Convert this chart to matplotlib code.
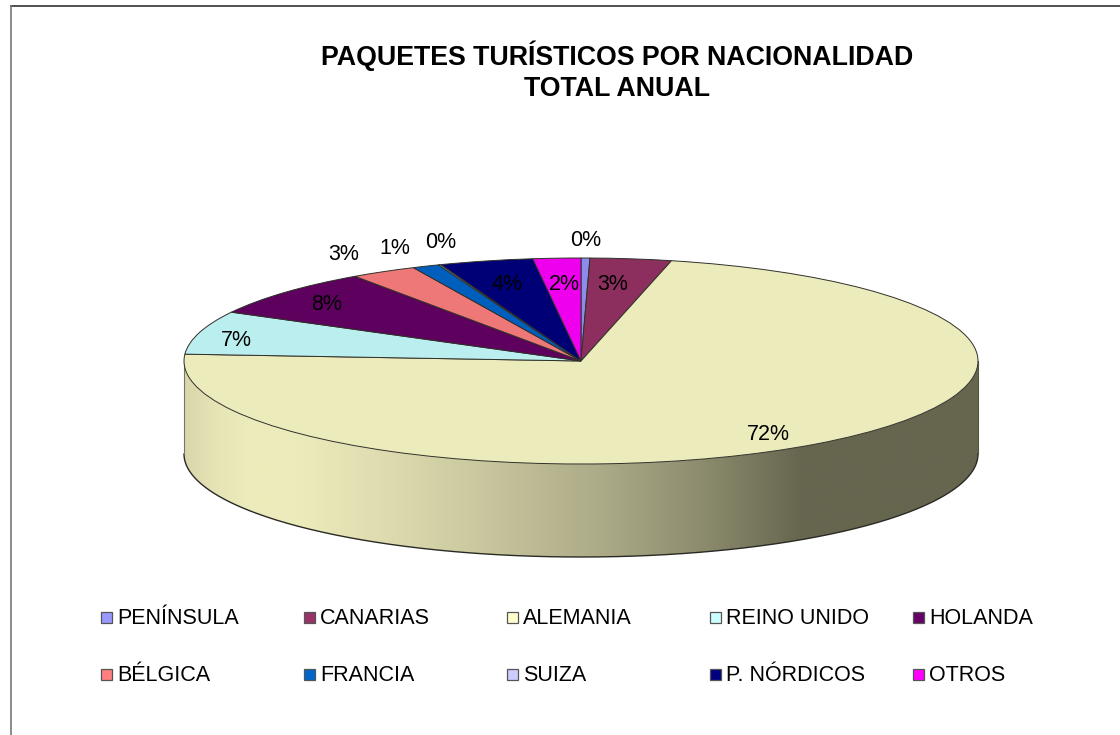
import numpy as np
import matplotlib
matplotlib.use('Agg')
import matplotlib.pyplot as plt
from matplotlib.colors import LinearSegmentedColormap
from matplotlib.patches import Rectangle, PathPatch
from matplotlib.path import Path

# Chart data
categories = ['PENÍNSULA', 'CANARIAS', 'ALEMANIA', 'REINO UNIDO', 'HOLANDA',
              'BÉLGICA', 'FRANCIA', 'SUIZA', 'P. NÓRDICOS', 'OTROS']
values = [0.36, 3.3, 72.4, 6.8, 7.5, 2.7, 1.1, 0.1, 3.8, 1.94]
pct_labels = ['0%', '3%', '72%', '7%', '8%', '3%', '1%', '0%', '4%', '2%']
title_lines = 'PAQUETES TURÍSTICOS POR NACIONALIDAD\nTOTAL ANUAL'

# Colours
face_colors = ['#8C8CEB', '#8C2F5E', '#ECEBBC', '#BBEEEE', '#5E005E',
               '#EE7777', '#005FBD', '#BDBDEE', '#000076', '#EE00EE']
legend_colors = ['#9999FF', '#993366', '#FFFFCC', '#CCFFFF', '#660066',
                 '#FF8080', '#0066CC', '#CCCCFF', '#000080', '#FF00FF']

# Layout in pixels
W, H = 1120, 735
cx, cy, rx, ry, depth = 581, 361, 397, 103, 93
label_px = [(586, 241), (613, 285), (768, 434), (236, 340), (327, 305),
            (344, 254), (395, 248), (441, 243), (507, 285), (564, 285)]
legend_col_x = [101, 304, 507, 710, 913]
legend_row_y = [617, 674]

plt.rcParams['font.family'] = ['Liberation Sans', 'DejaVu Sans']
fig = plt.figure(figsize=(W / 100, H / 100), dpi=100)
ax = fig.add_axes([0, 0, 1, 1])

# Pie top face, squashed into an ellipse
wedges, _ = ax.pie(values, colors=face_colors, startangle=90, counterclock=False,
                   radius=1, wedgeprops={'edgecolor': '#30302A', 'linewidth': 0.7, 'zorder': 3})
ax.axis('off')

# Side wall with left-to-right shading
d = depth / ry
t = np.linspace(np.pi, 2 * np.pi, 300)
wall = np.vstack([np.c_[np.cos(t), np.sin(t) - d],
                  np.c_[np.cos(t[::-1]), np.sin(t[::-1])]])
wall_patch = PathPatch(Path(np.vstack([wall, wall[0]])), facecolor='none',
                       edgecolor='none', transform=ax.transData)
ax.add_patch(wall_patch)
stops = [(185, '#D8D6AA'), (215, '#E6E4B6'), (250, '#ECEBBB'), (300, '#ECEBBB'), (387, '#DEDCAF'),
         (491, '#C6C59C'), (595, '#AEAC89'), (698, '#8E8D6F'), (802, '#66664F'), (978, '#66664F')]
cmap = LinearSegmentedColormap.from_list(
    'wall', [((p - 185) / (978 - 185), c) for p, c in stops], N=1024)
img = ax.imshow(np.linspace(0, 1, 1024).reshape(1, -1), cmap=cmap, aspect='auto',
                extent=(-1, 1, -1 - d, 0), zorder=1)
img.set_clip_path(wall_patch)
ax.set_aspect('auto')
ax.set_xlim((0 - cx) / rx, (W - cx) / rx)
ax.set_ylim((cy - H) / ry, (cy - 0) / ry)
ax.plot(np.cos(t), np.sin(t) - d, color='#2A2A25', lw=1.0, zorder=2)
ax.plot([-1, -1], [0, -d], color='#77775F', lw=0.8, zorder=2)
ax.plot([1, 1], [0, -d], color='#55553F', lw=0.8, zorder=2)

# Outer frame (only top and left are visible)
fig.add_artist(plt.Line2D([10.5 / W, 1], [1 - 6 / H, 1 - 6 / H], color='#222222', lw=1.1))
fig.add_artist(plt.Line2D([10.5 / W, 10.5 / W], [0, 1 - 6 / H], color='#777777', lw=1.2))

# Title
fig.text(617 / W, 1 - 71 / H, title_lines, ha='center', va='center', fontsize=19.25,
         fontweight='bold', linespacing=1.27, color='black')

# Percentage labels
for lab, (px, py) in zip(pct_labels, label_px):
    fig.text(px / W, 1 - py / H, lab, ha='center', va='center', fontsize=15.5, color='black')

# Legend, two rows of five
for i, (name, col) in enumerate(zip(categories, legend_colors)):
    x = legend_col_x[i % 5]
    y = legend_row_y[i // 5]
    fig.add_artist(Rectangle((x / W, 1 - (y + 5.5) / H), 11 / W, 11 / H, facecolor=col,
                             edgecolor='#555555', linewidth=0.9, transform=fig.transFigure))
    fig.text((x + 16) / W, 1 - (y - 1) / H, name, ha='left', va='center_baseline', fontsize=15.5, color='black')

fig.savefig('out.png', dpi=100, facecolor='white')
